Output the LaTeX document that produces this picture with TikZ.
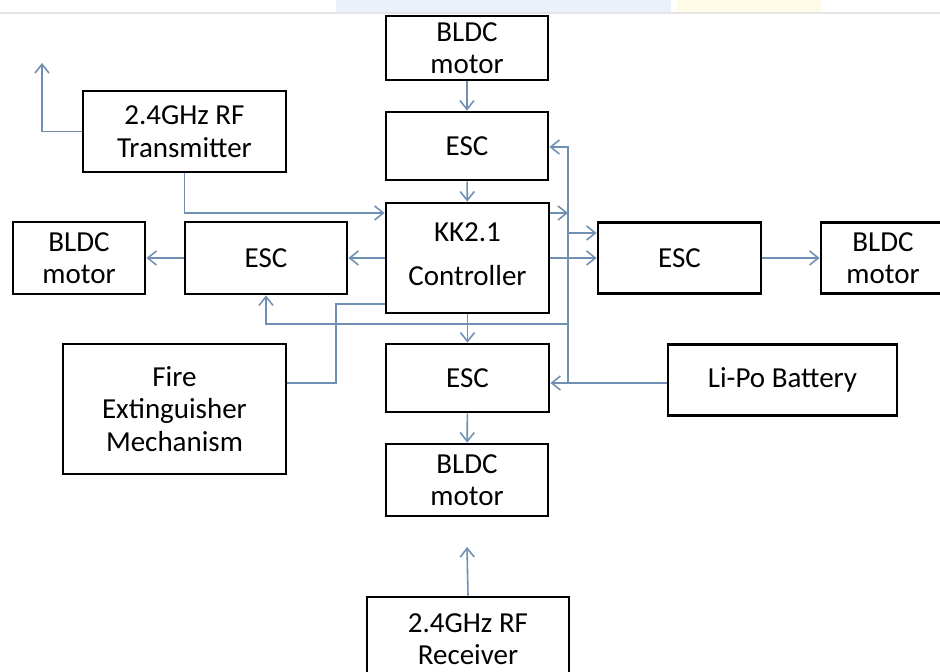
\documentclass[tikz,border=0pt]{standalone}
\usepackage{fontspec}
\setmainfont{Carlito}
\usepackage{tikz}
\usetikzlibrary{arrows.meta,positioning}
\definecolor{wireblue}{HTML}{6F8FB3}
\definecolor{bannerblue}{HTML}{EAF1FA}
\definecolor{banneryellow}{HTML}{FEFBE6}

\begin{document}
\begin{tikzpicture}[
  x=0.02cm, y=-0.02cm,
  font=\fontsize{16.5}{18.5}\selectfont,
  >={Straight Barb[length=5pt,width=8pt]},
  block/.style={
    draw=black,
    fill=white,
    line width=1.6pt,
    inner sep=0pt,
    align=center
  },
  wire/.style={
    draw=wireblue,
    line width=0.9pt
  }
]
  \useasboundingbox (0,0) rectangle (940,672);

  % Faded strip along the top edge
  \fill[bannerblue] (336,0) rectangle (671,12);
  \fill[banneryellow] (677,0) rectangle (821,12);
  \draw[gray!20, line width=1.2pt] (0,13) -- (940,13);

  % Central column
  \node[block, minimum width=3.24cm, minimum height=1.28cm] (motorT) at (467,48) {BLDC\\motor};
  \node[block, minimum width=3.24cm, minimum height=1.36cm] (escT) at (467,146) {ESC};
  \node[block, minimum width=3.26cm, minimum height=2.2cm] (ctrl) at (467.5,258) {KK2.1\\[7pt]Controller\\[-14pt]\mbox{}};
  \node[block, minimum width=3.26cm, minimum height=1.36cm] (escB) at (467.5,378) {ESC};
  \node[block, minimum width=3.24cm, minimum height=1.44cm] (motorB) at (467,480) {BLDC\\motor};
  \node[block, minimum width=4.04cm, minimum height=1.68cm] (rx) at (468,639) {2.4GHz RF\\Receiver};

  % Left side
  \node[block, minimum width=4.06cm, minimum height=1.62cm] (tx) at (184.5,131.5) {2.4GHz RF\\Transmitter};
  \node[block, minimum width=3.24cm, minimum height=1.44cm] (escL) at (266,258) {ESC};
  \node[block, minimum width=2.64cm, minimum height=1.44cm] (motorL) at (79,258) {BLDC\\motor};
  \node[block, minimum width=4.46cm, minimum height=2.6cm] (fire) at (174.5,409) {Fire\\Extinguisher\\Mechanism};

  % Right side
  \node[block, minimum width=3.26cm, minimum height=1.42cm] (escR) at (679.5,258) {ESC};
  \node[block, minimum width=2.48cm, minimum height=1.42cm] (motorR) at (883,258) {BLDC\\motor};
  \node[block, minimum width=4.58cm, minimum height=1.42cm] (lipo) at (782.5,380) {Li-Po Battery};

  % Helper points for the wiring
  \coordinate (txout) at (42,63);
  \coordinate (rxout) at (467,547);
  \coordinate (busT) at (568,147);
  \coordinate (busB) at (568,383);
  \coordinate (rowA) at (0,213);
  \coordinate (rowB) at (0,233);
  \coordinate (rowC) at (0,324);
  \coordinate (rowD) at (0,304);
  \coordinate (fireX) at (336,383);

  % Signal path
  \draw[wire, ->] (tx.west) -| (txout);
  \draw[wire, ->] (tx.south) |- (ctrl.west |- rowA);
  \draw[wire, ->] (motorT) -- (escT);
  \draw[wire, ->] (escT) -- (ctrl);
  \draw[wire, ->] (ctrl) -- (escB);
  \draw[wire, ->] (escB) -- (motorB);
  \draw[wire, ->] (ctrl.west) -- (escL.east);
  \draw[wire, ->] (escL.west) -- (motorL.east);
  \draw[wire, ->] (ctrl.east) -- (escR.west);
  \draw[wire, ->] (escR.east) -- (motorR.west);
  \draw[wire, ->] (rx.north) -- (rxout);
  \draw[wire] (ctrl.west |- rowD) -| (fireX) -- (fire.east |- fireX);

  % Power bus
  \draw[wire, ->] (ctrl.east |- rowA) -- (busT |- rowA);
  \draw[wire, ->] (lipo.west |- busB) -- (escB.east |- busB);
  \draw[wire, ->] (busB) -- (busT) -- (escT.east |- busT);
  \draw[wire, ->] (busT |- rowB) -- (escR.west |- rowB);
  \draw[wire, ->] (busB |- rowC) -| (escL.south);

\end{tikzpicture}
\end{document}
